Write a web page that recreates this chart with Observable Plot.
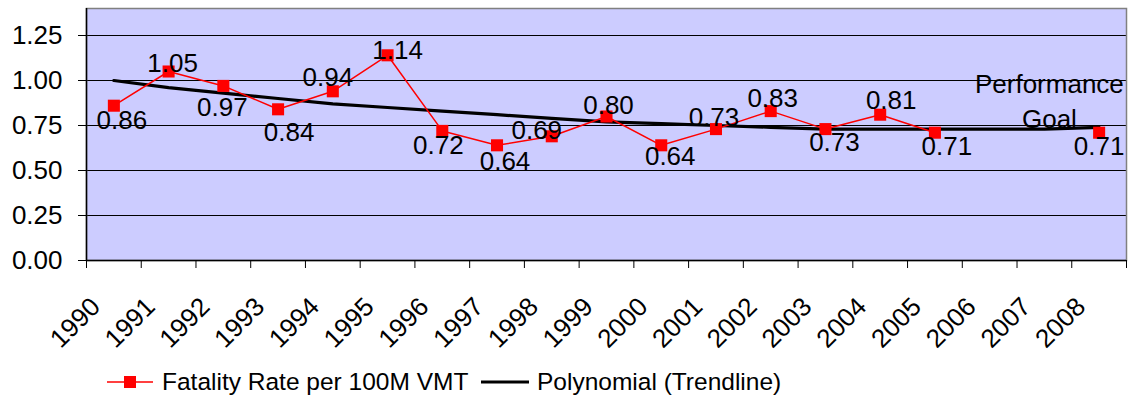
<!DOCTYPE html>
<html><head><meta charset="utf-8">
<script src="https://cdn.jsdelivr.net/npm/d3@7"></script>
<script src="https://cdn.jsdelivr.net/npm/@observablehq/plot@0.6"></script>
<style>
body{margin:0;background:#fff;font-family:"Liberation Sans",Arial,sans-serif;}
#chart svg{display:block;}
#legend{position:relative;width:1131px;height:42px;font-size:24.5px;color:#000;}
#legend .sw{position:absolute;top:10px;}
#legend .lab{position:absolute;top:6px;white-space:nowrap;line-height:28px;}
</style></head><body>
<div id="chart"></div>
<div id="legend"></div>
<script>
const years = [1990,1991,1992,1993,1994,1995,1996,1997,1998,1999,2000,2001,2002,2003,2004,2005,2006,2007,2008];
const fatalityRate = [0.86,1.05,0.97,0.84,0.94,1.14,0.72,0.64,0.69,0.80,0.64,0.73,0.83,0.73,0.81,0.71,null,null,0.71];
const trendline = [1.00,0.96,0.93,0.90,0.87,0.85,0.83,0.81,0.79,0.77,0.76,0.75,0.74,0.73,0.73,0.73,0.73,0.73,0.74];
const yTicks = [0,0.25,0.5,0.75,1.0,1.25];
const seriesNames = ["Fatality Rate per 100M VMT","Polynomial (Trendline)"];
const goalText = "Performance\nGoal";
// label nudges in pixels (dx, dy) relative to each point
const labelNudge = [[8,15],[4,-8],[-1,22],[11,23],[-5,-14],[10,-5],[-4,15],[8,16],[-15,-6],[2,-11],[9,11],[-2,-11],[2,-12],[9,14],[11,-14],[12,14],null,null,[0,14]];

const rows = years.map((year,i)=>({year, rate: fatalityRate[i], trend: trendline[i], nudge: labelNudge[i]}));
const boundaries = years.map(y=>y-0.5).concat([years[years.length-1]+0.5]);
const pts = rows.filter(d=>d.rate!=null);
const fs = 26;

const chart = Plot.plot({
  width:1131, height:362,
  marginLeft:86, marginRight:5, marginTop:8, marginBottom:102,
  x:{type:"linear", domain:[years[0]-0.5, years[years.length-1]+0.5], label:null},
  y:{domain:[0,1.4], label:null},
  style:{fontFamily:'"Liberation Sans",Arial,sans-serif', fontSize:"26px", color:"#000", background:"#fff"},
  marks:[
    Plot.frame({fill:"#CCCCFF", stroke:null}),
    Plot.ruleY(yTicks, {stroke:"#000", strokeWidth:1}),
    Plot.line(rows, {x:"year", y:"trend", stroke:"#000", strokeWidth:3.2}),
    Plot.line(rows, {x:"year", y:"rate", stroke:"#FF0000", strokeWidth:1.5}),
    Plot.dot(pts, {x:"year", y:"rate", symbol:"square", r:6.8, fill:"#FF0000", stroke:null}),
    ...pts.map(d=>Plot.text([d], {x:"year", y:"rate", text:d=>d.rate.toFixed(2), dx:d.nudge[0], dy:d.nudge[1], fontSize:fs, fill:"#000"})),
    Plot.text([rows[17]], {x:"year", y:"trend", text:()=>goalText, dx:5, dy:-30, lineHeight:1.35, fontSize:fs, fill:"#000"}),
    Plot.frame({stroke:"#808080", strokeWidth:1.5}),
    Plot.ruleX([years[0]-0.5], {stroke:"#000", strokeWidth:1.5}),
    Plot.ruleY([0], {stroke:"#000", strokeWidth:1.5}),
    Plot.axisY(yTicks, {tickSize:8, tickPadding:16, tickFormat:d=>d.toFixed(2), fontSize:fs, label:null}),
    Plot.axisX(boundaries, {tickSize:8, tickFormat:()=>"", label:null}),
    Plot.axisX(years, {tickSize:0, tickPadding:42, tickRotate:-45, dx:-18, tickFormat:d=>String(d), fontSize:fs, label:null})
  ]
});
document.getElementById("chart").appendChild(chart);

const lg = document.getElementById("legend");
lg.innerHTML = `
<svg class="sw" style="left:107px" width="48" height="20"><line x1="0" x2="46" y1="10" y2="10" stroke="#FF0000" stroke-width="1.5"/><rect x="17" y="4" width="12" height="12" fill="#FF0000"/></svg>
<div class="lab" style="left:162px">${seriesNames[0]}</div>
<svg class="sw" style="left:481px" width="48" height="20"><line x1="0" x2="48" y1="10" y2="10" stroke="#000" stroke-width="3.2"/></svg>
<div class="lab" style="left:537px">${seriesNames[1]}</div>`;
</script>
</body></html>
